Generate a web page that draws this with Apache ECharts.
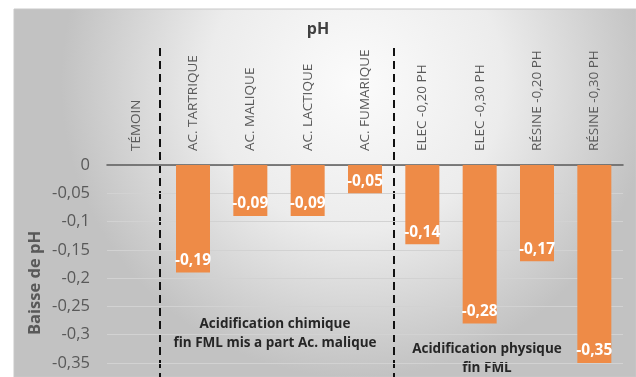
<!DOCTYPE html>
<html>
<head>
<meta charset="utf-8">
<script src="https://cdn.jsdelivr.net/npm/echarts@6/dist/echarts.min.js"></script>
<style>
  html, body { margin: 0; padding: 0; background: #ffffff; }
  #chart { width: 636px; height: 377px; }
</style>
</head>
<body>
<div id="chart"></div>
<script>
// Baisse de pH par modalité d'acidification
const categories = [
  'TÉMOIN', 'AC. TARTRIQUE', 'AC. MALIQUE', 'AC. LACTIQUE', 'AC. FUMARIQUE',
  'ELEC -0,20 PH', 'ELEC -0,30 PH', 'RÉSINE -0,20 PH', 'RÉSINE -0,30 PH'
];
const phDrop = [0, -0.19, -0.09, -0.09, -0.05, -0.14, -0.28, -0.17, -0.35];
const yTickLabels = ['0', '-0,05', '-0,1', '-0,15', '-0,2', '-0,25', '-0,3', '-0,35'];
const groupNotes = [
  'Acidification chimique\nfin FML mis a part Ac. malique',
  'Acidification physique\nfin FML'
];

const FONT = 'Open Sans';
const fmt = v => v.toFixed(2).replace(/0$/, '').replace('.', ',');

const chart = echarts.init(document.getElementById('chart'), null, { renderer: 'canvas' });

const option = {
  backgroundColor: '#ffffff',
  animation: false,
  textStyle: { fontFamily: FONT },
  grid: { left: 107, right: 13, top: 165, bottom: 14, containLabel: false },
  xAxis: {
    type: 'category',
    position: 'top',
    data: categories,
    axisLine: { onZero: false, lineStyle: { color: '#595959', width: 1.5 } },
    axisTick: { show: false },
    axisLabel: {
      rotate: -90,
      margin: 14,
      fontSize: 13.5,
      color: '#595959',
      fontFamily: FONT,
      interval: 0
    },
    splitLine: { show: false }
  },
  yAxis: {
    type: 'value',
    min: -0.35,
    max: 0,
    interval: 0.05,
    axisLine: { show: false },
    axisTick: { show: false },
    axisLabel: {
      margin: 17,
      fontSize: 16.5,
      color: '#595959',
      fontFamily: FONT,
      formatter: v => yTickLabels[Math.round(-v / 0.05)]
    },
    splitLine: { lineStyle: { color: '#d2d2d2', width: 1 } }
  },
  series: [{
    type: 'bar',
    data: phDrop,
    barWidth: 34,
    itemStyle: { color: '#EE8B47' },
    label: {
      show: true,
      position: 'insideBottom',
      distance: 4,
      color: '#ffffff',
      fontWeight: 'bold',
      fontSize: 15.5,
      fontFamily: FONT,
      formatter: p => (p.value === 0 ? '' : fmt(p.value))
    }
  }],
  graphic: [
    {
      type: 'rect', z: -10, silent: true,
      shape: { x: 14, y: 9, width: 622, height: 368 },
      style: {
        fill: new echarts.graphic.RadialGradient(0.55, 0.2, 0.8, [
          { offset: 0, color: '#fbfbfb' },
          { offset: 0.5, color: '#ececec' },
          { offset: 1, color: '#c2c2c2' }
        ]),
        stroke: '#c8c8c8', lineWidth: 1
      }
    },
    {
      type: 'text', x: 318, y: 29,
      style: {
        text: 'pH', font: `bold 16px "${FONT}"`, fill: '#404040',
        align: 'center', verticalAlign: 'middle'
      }
    },
    {
      type: 'text', x: 35, y: 283, rotation: Math.PI / 2,
      style: {
        text: 'Baisse de pH', font: `bold 16.5px "${FONT}"`, fill: '#595959',
        align: 'center', verticalAlign: 'middle'
      }
    },
    {
      type: 'line', silent: true,
      shape: { x1: 160, y1: 48, x2: 160, y2: 377 },
      style: { stroke: '#111111', lineWidth: 2, lineDash: [8, 5] }
    },
    {
      type: 'line', silent: true,
      shape: { x1: 394, y1: 48, x2: 394, y2: 377 },
      style: { stroke: '#111111', lineWidth: 2, lineDash: [8, 5] }
    },
    {
      type: 'text', x: 275, y: 334,
      style: {
        text: groupNotes[0], font: `bold 13.5px "${FONT}"`, fill: '#262626',
        align: 'center', verticalAlign: 'middle', lineHeight: 19
      }
    },
    {
      type: 'text', x: 487, y: 359,
      style: {
        text: groupNotes[1], font: `bold 13.5px "${FONT}"`, fill: '#262626',
        align: 'center', verticalAlign: 'middle', lineHeight: 19
      }
    }
  ]
};

chart.setOption(option);
</script>
</body>
</html>
